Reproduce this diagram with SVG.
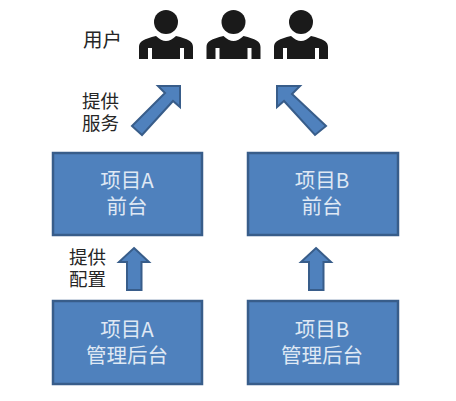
<svg xmlns="http://www.w3.org/2000/svg" width="456" height="401" viewBox="0 0 456 401">
<style>
.box{fill:#4f81bd;stroke:#385d8a;stroke-width:2.500}
.arrow{fill:#4f81bd;stroke:#385d8a;stroke-width:2}
text{font-family:"Noto Sans CJK SC","Liberation Sans",sans-serif;font-size:18.500px}
.w{fill:#dfe8f4;text-anchor:middle;font-size:20.500px}
.k{fill:#262626}
.p{fill:#1a1a1a}
</style>
<defs>
<g id="person">
<circle cx="0" cy="22" r="12" class="p"/>
<path class="p" d="M-27 59V47C-27 41-22 39-10 36C-7 39-3 41 0 41C3 41 7 39 10 36C22 39 27 41 27 47V59H18V48H14V59H-14V48H-18V59Z"/>
</g>
</defs>
<g id="connectors">
<path class="arrow" d="M134 248L149 262H141.500V290H127V262H119Z"/>
<path class="arrow" d="M316 248L331 262H323.500V290H309V262H301Z"/>
<path class="arrow" d="M180 86V107L173 101L142 135L132 126L165 93L158 86Z"/>
<path class="arrow" d="M277 86V107L284 101L315 135L326 126L292 94L300 86Z"/>
</g>
<g id="users">
<text class="k" x="83" y="47" style="font-size:19.500px">用户</text>
<use href="#person" x="166"/>
<use href="#person" x="233.500"/>
<use href="#person" x="301"/>
</g>
<g id="label-serve"><text class="k"><tspan x="82" y="108">提供</tspan><tspan x="82" y="130">服务</tspan></text></g>
<g id="label-config"><text class="k"><tspan x="69" y="264">提供</tspan><tspan x="69" y="286">配置</tspan></text></g>
<g id="a-front"><rect class="box" x="53" y="153" width="149" height="82"/><text class="w"><tspan x="127" y="188">项目A</tspan><tspan x="127" y="214">前台</tspan></text></g>
<g id="b-front"><rect class="box" x="248" y="153" width="150" height="82"/><text class="w"><tspan x="322" y="188">项目B</tspan><tspan x="322" y="214">前台</tspan></text></g>
<g id="a-admin"><rect class="box" x="53" y="301" width="149" height="83"/><text class="w"><tspan x="127" y="337">项目A</tspan><tspan x="127" y="363">管理后台</tspan></text></g>
<g id="b-admin"><rect class="box" x="248" y="301" width="150" height="83"/><text class="w"><tspan x="322" y="337">项目B</tspan><tspan x="322" y="363">管理后台</tspan></text></g>
</svg>
